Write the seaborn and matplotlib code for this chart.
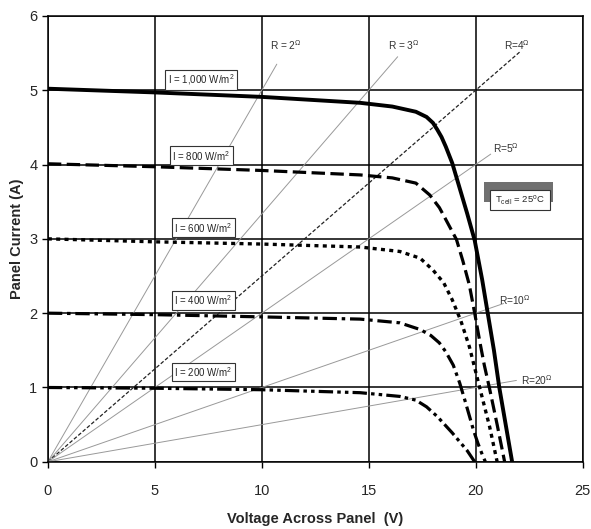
import matplotlib
matplotlib.use("Agg")
import matplotlib.pyplot as plt
import seaborn as sns
import pandas as pd
from matplotlib.patches import Rectangle

# ---- data ----
v_1000 = [0, 5, 10, 14.6, 16.1, 17.2, 17.7, 18.0, 18.2, 18.4, 18.6, 18.9, 19.25, 19.6, 19.95, 20.3, 20.56, 20.85, 21.1, 21.4, 21.7]
i_1000 = [5.02, 4.97, 4.91, 4.83, 4.78, 4.71, 4.64, 4.56, 4.47, 4.37, 4.24, 4.02, 3.68, 3.34, 2.98, 2.45, 2.0, 1.5, 1.0, 0.5, 0.0]

v_800 = [0, 5, 10, 14.6, 16.1, 17.2, 17.85, 18.3, 18.6, 19.1, 19.4, 19.7, 19.95, 20.2, 20.4, 20.65, 21.0, 21.35]
i_800 = [4.01, 3.97, 3.92, 3.86, 3.82, 3.75, 3.59, 3.42, 3.26, 2.99, 2.70, 2.38, 2.0, 1.6, 1.3, 0.98, 0.50, 0.0]

v_600 = [0, 5, 10, 14.6, 16.45, 17.4, 18.0, 18.5, 18.9, 19.3, 19.7, 20.2, 20.65, 21.0]
i_600 = [3.0, 2.96, 2.93, 2.89, 2.83, 2.74, 2.58, 2.41, 2.18, 1.90, 1.55, 0.98, 0.47, 0.0]

v_400 = [0, 5, 10, 14.6, 16.45, 17.4, 17.9, 18.3, 18.6, 18.95, 19.25, 19.5, 19.7, 19.9, 20.1, 20.3, 20.45]
i_400 = [2.0, 1.98, 1.95, 1.92, 1.87, 1.78, 1.70, 1.60, 1.48, 1.30, 1.06, 0.82, 0.62, 0.42, 0.25, 0.10, 0.0]

v_200 = [0, 5, 10, 14.6, 16.45, 17.2, 17.7, 18.2, 18.55, 18.9, 19.25, 19.6, 19.95]
i_200 = [1.0, 0.99, 0.97, 0.93, 0.88, 0.83, 0.74, 0.61, 0.50, 0.39, 0.27, 0.15, 0.0]

irr_labels = ["I = 1,000 W/m$^2$", "I = 800 W/m$^2$", "I = 600 W/m$^2$",
              "I = 400 W/m$^2$", "I = 200 W/m$^2$"]

r_values = [2, 3, 4, 5, 10, 20]
r_end_v = [10.7, 16.35, 22.1, 20.7, 21.3, 21.9]
r_labels = ["R = 2$^{\\Omega}$", "R = 3$^{\\Omega}$", "R=4$^{\\Omega}$",
            "R=5$^{\\Omega}$", "R=10$^{\\Omega}$", "R=20$^{\\Omega}$"]

x_ticks = [0, 5, 10, 15, 20, 25]
y_ticks = [0, 1, 2, 3, 4, 5, 6]

# ---- style ----
sns.set_style("white")
plt.rcParams["font.family"] = ["Liberation Sans", "DejaVu Sans"]
plt.rcParams["mathtext.fontset"] = "custom"
plt.rcParams["mathtext.rm"] = "Liberation Sans"
plt.rcParams["mathtext.it"] = "Liberation Sans"

fig = plt.figure(figsize=(5.91, 5.29), dpi=100)
ax = fig.add_axes([0.081, 0.127, 0.905, 0.843])

# grid
for xv in x_ticks:
    ax.axvline(xv, color="black", lw=1.1, zorder=1)
for yv in y_ticks:
    ax.axhline(yv, color="black", lw=1.1, zorder=1)

# load lines
for R, ve in zip(r_values, r_end_v):
    df = pd.DataFrame({"V": [0, ve], "I": [0, ve / R]})
    if R == 4:
        sns.lineplot(data=df, x="V", y="I", ax=ax, color="#222222", lw=0.9,
                     linestyle=(0, (3.0, 1.6)), zorder=2)
    else:
        sns.lineplot(data=df, x="V", y="I", ax=ax, color="#999999", lw=0.7,
                     zorder=2)

label_pos = {2: (10.4, 5.6), 3: (15.9, 5.6), 4: (21.3, 5.6),
             5: (20.8, 4.22), 10: (21.1, 2.18), 20: (22.1, 1.1)}
for R, lab in zip(r_values, r_labels):
    x, y = label_pos[R]
    ax.text(x, y, lab, fontsize=7.3, color="#333333", ha="left", va="center", zorder=5)

# I-V curves
curves = [
    (v_1000, i_1000, "-", 2.8),
    (v_800, i_800, (0, (4.2, 1.7)), 2.3),
    (v_600, i_600, (0, (1.2, 1.3)), 2.4),
    (v_400, i_400, (0, (4.5, 1.5, 1.1, 1.5)), 2.3),
    (v_200, i_200, (0, (4.5, 1.3, 1.1, 1.3, 1.1, 1.3)), 2.3),
]
for v, i, ls, lw in curves:
    df = pd.DataFrame({"V": v, "I": i})
    sns.lineplot(data=df, x="V", y="I", ax=ax, color="black", lw=lw,
                 linestyle=ls, sort=False, zorder=3, solid_joinstyle="round")

# irradiance labels
irr_pos = [(5.6, 5.14), (5.8, 4.12), (5.9, 3.15), (5.9, 2.17), (5.9, 1.21)]
for (x, y), lab in zip(irr_pos, irr_labels):
    ax.text(x, y, lab, fontsize=7, ha="left", va="center", zorder=6,
            bbox=dict(boxstyle="square,pad=0.25", fc="white", ec="#333333", lw=0.8))

# T_cell box
ax.add_patch(Rectangle((20.4, 3.5), 3.2, 0.27, fc="#707070", ec="none", zorder=6))
ax.add_patch(Rectangle((20.65, 3.39), 2.8, 0.27, fc="white", ec="#333333", lw=0.8, zorder=7))
ax.text(22.05, 3.525, "T$_{cell}$ = 25$^o$C", fontsize=6.8, ha="center", va="center", zorder=8)

ax.set_xlim(0, 25)
ax.set_ylim(0, 6)
ax.set_xticks(x_ticks)
ax.set_yticks(y_ticks)
ax.tick_params(axis="both", direction="out", length=4, width=1, color="black",
               labelsize=10.5, bottom=True, left=True)
ax.tick_params(axis="x", pad=12)
for s in ax.spines.values():
    s.set_color("black")
    s.set_linewidth(1.1)
ax.set_xlabel("Voltage Across Panel  (V)", fontsize=10.5, fontweight="bold", labelpad=10)
ax.set_ylabel("Panel Current (A)", fontsize=10.5, fontweight="bold", labelpad=4)

fig.savefig("out.png", dpi=100)
